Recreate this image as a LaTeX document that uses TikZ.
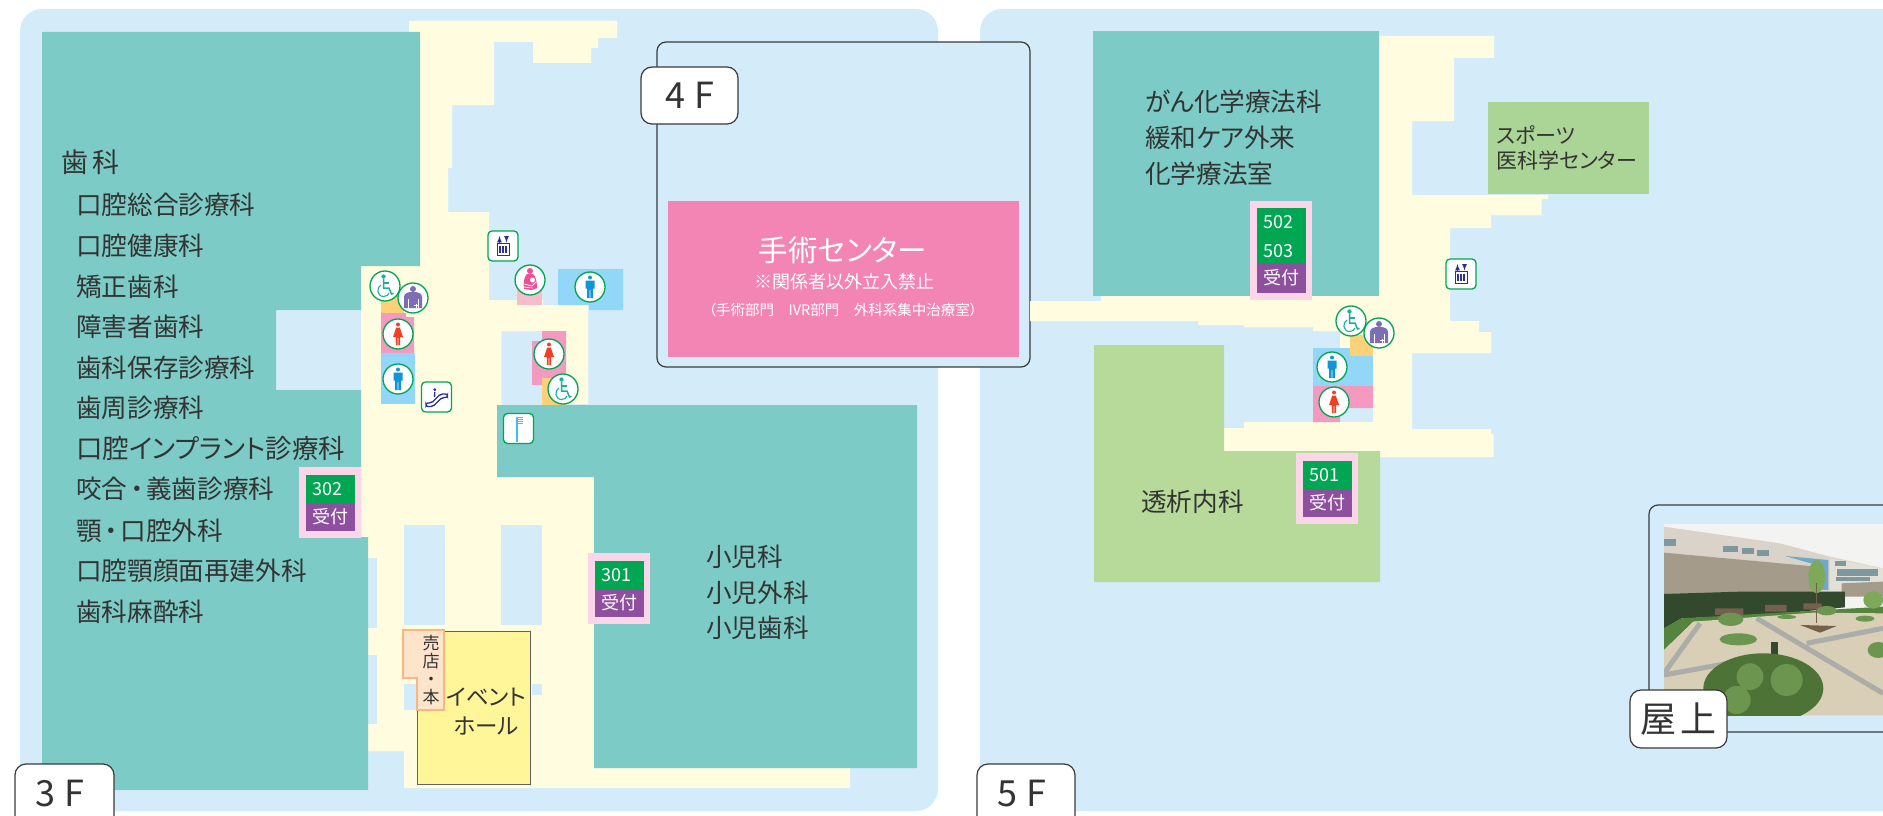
\documentclass[tikz,border=0pt]{standalone}
\usepackage{fontspec}
\setmainfont{Noto Sans CJK JP}[RawFeature=+palt]
\definecolor{skypanel}{HTML}{D4ECFA}
\definecolor{corridor}{HTML}{FFFCDF}
\definecolor{tealroom}{HTML}{7CCBC6}
\definecolor{dialroom}{HTML}{B7DA9A}
\definecolor{sportroom}{HTML}{ABD597}
\definecolor{oproom}{HTML}{F385B5}
\definecolor{hallroom}{HTML}{FFF69A}
\definecolor{shoproom}{HTML}{FFE4CC}
\definecolor{shopline}{HTML}{FBB57F}
\definecolor{womanroom}{HTML}{F49AC1}
\definecolor{manroom}{HTML}{92D7F7}
\definecolor{wheelroom}{HTML}{FDD07A}
\definecolor{nurseroom}{HTML}{F9BCCB}
\definecolor{deskpink}{HTML}{FAD6E8}
\definecolor{deskgreen}{HTML}{00A651}
\definecolor{deskpurple}{HTML}{8F4F9F}
\definecolor{inkdark}{HTML}{333333}
\definecolor{labelline}{HTML}{3A3A3A}
\definecolor{manblue}{HTML}{0F95D8}
\definecolor{womanred}{HTML}{EF4023}
\definecolor{wheelteal}{HTML}{1FAE9C}
\definecolor{ostoblue}{HTML}{7C6DB5}
\definecolor{nursepink}{HTML}{EE4E93}
\definecolor{liftblue}{HTML}{2E3192}
\definecolor{brushblue}{HTML}{3FC1F0}
\definecolor{photosky}{HTML}{F3F3F1}
\definecolor{photowall}{HTML}{DAD3C9}
\definecolor{phototan}{HTML}{A49B8B}
\definecolor{photoglass}{HTML}{6FA8C8}
\definecolor{photowing}{HTML}{E3E0D8}
\definecolor{photopane}{HTML}{7F98A0}
\definecolor{photohedge}{HTML}{33492E}
\definecolor{photolawn}{HTML}{55843F}
\definecolor{photopave}{HTML}{D8CFB6}
\definecolor{photostripe}{HTML}{ABADA8}
\definecolor{photobench}{HTML}{75604E}
\definecolor{photoleaf}{HTML}{6C9650}
\definecolor{photobush}{HTML}{4D7436}
\definecolor{phototree}{HTML}{7FA95A}
\tikzset{
    deptlabel/.style={font=\fontsize{25.6}{30}\selectfont,text=inkdark,anchor=west,inner sep=0pt},
    floorlabel/.style={draw=labelline,fill=white,line width=1.2pt,rounded corners=11pt,inner sep=0pt,
        font=\fontsize{36}{40}\selectfont,text=inkdark},
    deskbase/.style={fill=deskpink,inner sep=0pt},
    deskno/.style={font=\fontsize{18}{20}\selectfont,text=white,anchor=west,inner sep=0pt},
    deskname/.style={font=\fontsize{18}{20}\selectfont,text=white,inner sep=0pt},
    signring/.style={circle,draw=deskgreen,fill=white,line width=1.3pt,minimum size=30pt,inner sep=0pt},
    signbox/.style={rectangle,rounded corners=4pt,draw=deskgreen,fill=white,line width=1.3pt,
        minimum width=30pt,minimum height=30pt,inner sep=0pt},
    manfig/.pic={
        \fill[manblue] (0,-9.5) circle (2pt);
        \fill[manblue] (-4.5,-6.5) -- (4.5,-6.5) -- (4.5,1.5) -- (3,1.5) -- (3,11) -- (0.4,11) -- (0.4,3)
            -- (-0.4,3) -- (-0.4,11) -- (-3,11) -- (-3,1.5) -- (-4.5,1.5) -- cycle;
    },
    womanfig/.pic={
        \fill[womanred] (0,-9.5) circle (2pt);
        \fill[womanred] (-1.8,-6.5) -- (1.8,-6.5) -- (5,3) -- (2.2,3) -- (2.2,11) -- (0.4,11) -- (0.4,4)
            -- (-0.4,4) -- (-0.4,11) -- (-2.2,11) -- (-2.2,3) -- (-5,3) -- cycle;
    },
    wheelfig/.pic={
        \fill[wheelteal] (-1.5,-9.5) circle (2.2pt);
        \draw[wheelteal,line width=1.5pt] (-1.5,-7.5) -- (-1.5,2) -- (4,2) -- (6.5,8) -- (8.5,7.2);
        \draw[wheelteal,line width=1.2pt] (-1.5,-3) -- (3.5,-3);
        \draw[wheelteal,line width=1.1pt] (-3.8,-1) .. controls (-9,1) and (-8,10.5) .. (-1.5,10.5)
            .. controls (1.5,10.5) and (3.5,9) .. (4,7);
    },
    ostofig/.pic={
        \fill[ostoblue] (0,-9) circle (3pt);
        \fill[ostoblue] (-9,10) -- (-9,-1) .. controls (-9,-5) and (-5,-6) .. (0,-6)
            .. controls (5,-6) and (9,-5) .. (9,-1) -- (9,10) -- cycle;
        \draw[white,line width=0.8pt] (-5,1) -- (-5,10) (5,1) -- (5,10) (1,7.5) -- (5,7.5) (3,5.5) -- (3,9.5);
    },
    nursefig/.pic={
        \fill[nursepink] (0,-9) circle (3pt);
        \fill[nursepink] (-3,-6) -- (3,-6) .. controls (6,-4) and (7,3) .. (7,8) -- (2,10) -- (-6,9)
            .. controls (-7,3) and (-6,-3) .. (-3,-6) -- cycle;
        \fill[white] (2.5,0) circle (2.5pt);
        \draw[white,line width=0.8pt] (-6,4) -- (2,6) -- (6,2) (-6,7) -- (3,8);
    },
    liftfig/.pic={
        \draw[-latex,liftblue,line width=1.2pt] (-3.5,-3.5) -- (-3.5,-10);
        \draw[-latex,liftblue,line width=1.2pt] (3.5,-10) -- (3.5,-3.5);
        \draw[liftblue,line width=1pt] (-6,-2.5) rectangle (6,9.5);
        \foreach \k in {-3,0,3} {
            \draw[liftblue,line width=1.5pt] (\k,0) -- (\k,7);
        }
    },
    stairfig/.pic={
        \fill[liftblue] (-1.7,-7.3) circle (1.6pt);
        \draw[liftblue,line width=1.4pt] (-1.7,-5) -- (-2,0);
        \draw[liftblue,line width=1.4pt,rounded corners=2pt] (-10.5,6) -- (-5,6) -- (4,-3) -- (11,-3)
            -- (11,0.5) -- (5.5,0.5) -- (-3.5,9.5) -- (-10.5,9.5) -- cycle;
    },
    brushfig/.pic={
        \draw[brushblue,line width=2pt] (-2,-12) -- (-2,13);
        \foreach \k in {-11,-9,-7,-5} {
            \draw[brushblue,line width=1pt] (-1,\k) -- (4,\k);
        }
    },
}
\begin{document}
\begin{tikzpicture}[x=1pt,y=-1pt]
    \useasboundingbox (0,0) rectangle (1883,816);
    \clip (0,0) rectangle (1883,816);
    %% Floor panels
    \fill[skypanel,rounded corners=22pt] (20,9) rectangle (938,811);
    \fill[skypanel,rounded corners=22pt] (980,9) rectangle (1930,811);
    %% 4F frame
    \draw[fill=skypanel,draw=labelline,line width=1.2pt,rounded corners=9pt] (657,42) rectangle (1030,367);
    %% 3F corridor
    \fill[corridor] (409,21) -- (617,21) -- (617,38) -- (598,38) -- (598,48) -- (591,48) -- (591,63)
        -- (533,63) -- (533,42) -- (494,42) -- (494,105) -- (452,105) -- (452,168) -- (448,168) -- (448,212)
        -- (489,212) -- (489,300) -- (543,300) -- (543,305) -- (588,305) -- (588,404) -- (566,404)
        -- (566,331) -- (501.5,331) -- (501.5,405) -- (497,405) -- (497,477) -- (594,477) -- (594,768)
        -- (850,768) -- (850,788) -- (404,788) -- (404,751) -- (368,751) -- (368,537) -- (361,537)
        -- (361,266) -- (420,266) -- (420,32) -- (409,32) -- cycle;
    %% 3F patches of open air
    \foreach \xa/\ya/\xb/\yb in {368/558/377/628, 368/655/377/724, 404/525/445/625,
        501/525/542/625, 404/684/417/710, 531.5/684/542/695} {
        \fill[skypanel] (\xa,\ya) rectangle (\xb,\yb);
    }
    %% 3F clinics
    \fill[tealroom] (42,32) -- (420,32) -- (420,266) -- (361,266) -- (361,310) -- (276,310) -- (276,390)
        -- (361,390) -- (361,537) -- (368,537) -- (368,790) -- (42,790) -- cycle;
    \fill[tealroom] (497,405) -- (917,405) -- (917,768) -- (594,768) -- (594,477) -- (497,477) -- cycle;
    %% 3F toilets
    \fill[wheelroom] (381,295) rectangle (404,313);
    \fill[womanroom] (381,313) -- (406,313) -- (406,317) -- (414,317) -- (414,353) -- (381,353) -- cycle;
    \fill[manroom] (381,353) rectangle (415,404);
    \fill[nurseroom] (517,290) rectangle (542,305);
    \fill[manroom] (558,269) -- (623,269) -- (623,310) -- (589,310) -- (589,305) -- (558,305) -- cycle;
    \fill[womanroom] (542,331) -- (566,331) -- (566,378) -- (542,378) -- (542,385) -- (532,385)
        -- (532,341) -- (542,341) -- cycle;
    \fill[wheelroom] (542,378) rectangle (567,405);
    %% Event hall and shop
    \draw[fill=hallroom,draw=labelline!80,line width=1pt] (417,631) rectangle (530,784);
    \draw[fill=shoproom,draw=shopline,line width=2pt] (403,630) -- (444,630) -- (444,710) -- (417,710)
        -- (417,678) -- (403,678) -- cycle;
    \node[font=\fontsize{17}{18.2}\selectfont,text=inkdark,align=center,inner sep=0pt] (shoplabel) at (431,670)
        {売\\店\\・\\本};
    \node[font=\fontsize{22.5}{29}\selectfont,text=inkdark,align=center,inner sep=0pt] (halllabel) at (486.5,712)
        {イベント\\ホール};
    %% Surgery center on 4F
    \node[fill=oproom,minimum width=351pt,minimum height=156pt,inner sep=0pt] (opbox) at (843.5,279) {};
    \node[font=\fontsize{29.5}{32}\selectfont,text=white,inner sep=0pt] (optitle) at (843,250) {手術センター};
    \node[font=\fontsize{18}{20}\selectfont,text=white,inner sep=0pt] (opnote) at (844,282) {※関係者以外立入禁止};
    \node[font=\fontsize{14.5}{16}\selectfont,text=white,inner sep=0pt] (opwards) at (843,310)
        {（手術部門　IVR部門　外科系集中治療室）};
    %% 5F corridor
    \fill[corridor] (1379,36) -- (1494,36) -- (1494,58) -- (1454,58) -- (1454,121) -- (1412,121) -- (1412,195)
        -- (1548,195) -- (1548,199) -- (1541.5,199) -- (1541.5,215) -- (1491,215) -- (1491,228) -- (1450,228)
        -- (1450,321) -- (1479,321) -- (1479,332) -- (1491,332) -- (1491,353) -- (1412,353) -- (1412,429)
        -- (1491,429) -- (1491,434) -- (1493.5,434) -- (1493.5,457) -- (1380,457) -- (1380,451) -- (1224,451)
        -- (1224,428) -- (1244,428) -- (1244,422) -- (1373,422) -- (1373,348) -- (1340,348) -- (1340,331)
        -- (1313,331) -- (1313,327) -- (1244,327) -- (1244,325) -- (1198,325) -- (1198,321) -- (1030,321)
        -- (1030,301) -- (1101,301) -- (1101,296) -- (1379,296) -- cycle;
    %% 5F clinics
    \fill[tealroom] (1093,31) rectangle (1379,296);
    \fill[sportroom] (1488,102) rectangle (1649,194);
    \fill[dialroom] (1094,345) -- (1224,345) -- (1224,451) -- (1380,451) -- (1380,582) -- (1094,582) -- cycle;
    %% 5F toilets
    \fill[manroom] (1313,348) rectangle (1373,386);
    \fill[wheelroom] (1350,335) rectangle (1373,356);
    \fill[womanroom] (1313,386) -- (1373,386) -- (1373,408) -- (1340,408) -- (1340,422) -- (1313,422) -- cycle;
    %% Reception desks
    \foreach \n/\x/\y in {302/299/467, 301/588/553, 501/1296/453} {
        \fill[deskbase] (\x,\y) rectangle ++(62,71);
        \fill[deskgreen] (\x+7,\y+8) rectangle ++(49,28);
        \fill[deskpurple] (\x+7,\y+36) rectangle ++(49,28);
        \node[deskno] (no\n) at (\x+13,\y+22) {\n};
        \node[deskname] (desk\n) at (\x+31,\y+50) {受付};
    }
    \fill[deskbase] (1250,201) rectangle (1312,300);
    \fill[deskgreen] (1257,208) rectangle (1306,264);
    \fill[deskpurple] (1257,264) rectangle (1306,293);
    \node[deskno] (no502) at (1263,222) {502};
    \node[deskno] (no503) at (1263,251) {503};
    \node[deskname] (desk502) at (1281,278) {受付};
    %% Clinic names on 3F
    \node[deptlabel,font=\fontsize{27}{30}\selectfont] (dental) at (61,162) {歯\,科};
    \foreach \y/\t in {205/口腔総合診療科, 246/口腔健康科, 287/矯正歯科, 327/障害者歯科, 368/歯科保存診療科,
        408/歯周診療科, 489/咬合\hspace{3pt}・\hspace{3pt}義歯診療科, 531/顎\hspace{3pt}・\hspace{3pt}口腔外科,
        571/口腔顎顔面再建外科, 612/歯科麻酔科} {
        \node[deptlabel] (dent\y) at (76,\y) {\t};
    }
    \node[deptlabel,font=\fontsize{26.4}{30}\selectfont] (dent448) at (76,448) {口腔インプラント診療科};
    \foreach \y/\t in {557/小児科, 593/小児外科, 628/小児歯科} {
        \node[deptlabel] (kids\y) at (706,\y) {\t};
    }
    %% Clinic names on 5F
    \foreach \y/\t in {102/がん化学療法科, 138/緩和ケア外来, 174/化学療法室} {
        \node[deptlabel] (cancer\y) at (1145,\y) {\t};
    }
    \node[deptlabel] (dialysis) at (1141,502) {透析内科};
    \node[deptlabel,font=\fontsize{21}{24}\selectfont] (sport1) at (1496,135) {スポーツ};
    \node[deptlabel,font=\fontsize{21}{24}\selectfont] (sport2) at (1496,160) {医科学センター};
    %% Signs
    \foreach \x/\y in {398/379, 590/287, 1332/367} {
        \node[signring] (man\x) at (\x,\y) {};
        \pic at (\x,\y) {manfig};
    }
    \foreach \x/\y in {398/334, 549/354, 1334/402} {
        \node[signring] (woman\x) at (\x,\y) {};
        \pic at (\x,\y) {womanfig};
    }
    \foreach \x/\y in {385/286, 563/389, 1351/321} {
        \node[signring] (wheel\x) at (\x,\y) {};
        \pic at (\x,\y) {wheelfig};
    }
    \foreach \x/\y in {413/298, 1379/333} {
        \node[signring] (osto\x) at (\x,\y) {};
        \pic at (\x,\y) {ostofig};
    }
    \node[signring] (nurse) at (530,280) {};
    \pic at (530,280) {nursefig};
    \foreach \x/\y in {503/246, 1461/274} {
        \node[signbox] (lift\x) at (\x,\y) {};
        \pic at (\x,\y) {liftfig};
    }
    \node[signbox] (stairs) at (436.5,397) {};
    \pic at (436.5,397) {stairfig};
    \node[signbox] (brush) at (518.5,428.5) {};
    \pic at (518.5,428.5) {brushfig};
    %% Rooftop frame and photo
    \draw[fill=skypanel,draw=labelline,line width=1.2pt,rounded corners=9pt] (1649,505) rectangle (1930,732);
    \begin{scope}[shift={(1640,500)},x=0.3333pt,y=-0.3333pt]
        \clip (72,72) rectangle (729,647);
        \fill[photosky] (72,72) rectangle (729,647);
        %% building
        \fill[photowall] (72,80) -- (420,130) -- (570,170) -- (729,205) -- (729,270) -- (72,300) -- cycle;
        \fill[phototan] (72,158) -- (530,200) -- (530,290) -- (72,300) -- cycle;
        \fill[photoglass] (435,168) -- (565,180) -- (565,270) -- (530,270) -- (530,195) -- cycle;
        \fill[photowing] (570,175) -- (729,205) -- (729,265) -- (570,275) -- cycle;
        \fill[phototan] (605,250) -- (729,245) -- (729,290) -- (605,290) -- cycle;
        \foreach \xa/\ya/\xb/\yb in {72/118/108/138, 250/138/293/156, 305/145/342/162, 352/150/386/167,
            585/184/618/198, 590/208/715/228, 588/230/690/244} {
            \fill[photopane] (\xa,\ya) rectangle (\xb,\yb);
        }
        %% hedge
        \fill[photohedge] (72,282) -- (300,275) -- (615,275) -- (615,322) -- (380,345)
            -- (125,355) -- (72,385) -- cycle;
        %% paving and lawn
        \fill[photolawn] (72,385) -- (125,355) -- (729,320) -- (729,345) -- (160,365) -- (72,450) -- cycle;
        \fill[photopave] (72,450) -- (160,365) -- (520,338) -- (729,340) -- (729,647) -- (72,647) -- cycle;
        \draw[photostripe,line width=5pt] (180,370) -- (72,520) (72,525) -- (320,480) (350,355) -- (729,580)
            (500,430) -- (729,385);
        %% benches and planting
        \fill[photobench] (225,325) rectangle (310,345) (375,315) rectangle (440,335) (490,310) rectangle (545,328);
        \fill[photoleaf] (272,358) ellipse (38 and 20) (295,418) ellipse (56 and 18)
            (560,332) ellipse (30 and 14) (440,351) ellipse (28 and 6) (675,356) ellipse (28 and 9)
            (715,450) ellipse (32 and 24);
        \fill[photobench] (480,375) -- (590,378) -- (540,398) -- cycle;
        \fill[phototree] (530,230) ellipse (25 and 50) (700,300) ellipse (30 and 26);
        \draw[photobench,line width=1pt] (530,250) -- (530,370);
        \fill[photohedge] (394,425) rectangle (414,490);
        \fill[photobush] (370,565) ellipse (180 and 105);
        \fill[photoleaf] (330,530) circle (40) (440,540) circle (48) (290,600) circle (42);
    \end{scope}
    %% Floor labels
    \node[floorlabel,minimum width=97pt,minimum height=57pt] (fourth) at (689.5,95.5) {4\hspace{9pt}F};
    \node[floorlabel,minimum width=99pt,minimum height=80pt] (third) at (64.5,804) {};
    \node[font=\fontsize{36}{40}\selectfont,text=inkdark,inner sep=0pt] (thirdtext) at (60,794) {3\hspace{9pt}F};
    \node[floorlabel,minimum width=98pt,minimum height=80pt] (fifth) at (1026,804) {};
    \node[font=\fontsize{36}{40}\selectfont,text=inkdark,inner sep=0pt] (fifthtext) at (1022,794) {5\hspace{9pt}F};
    \node[floorlabel,minimum width=97pt,minimum height=58pt] (roof) at (1678.5,719) {屋\hspace{4pt}上};
\end{tikzpicture}
\end{document}
